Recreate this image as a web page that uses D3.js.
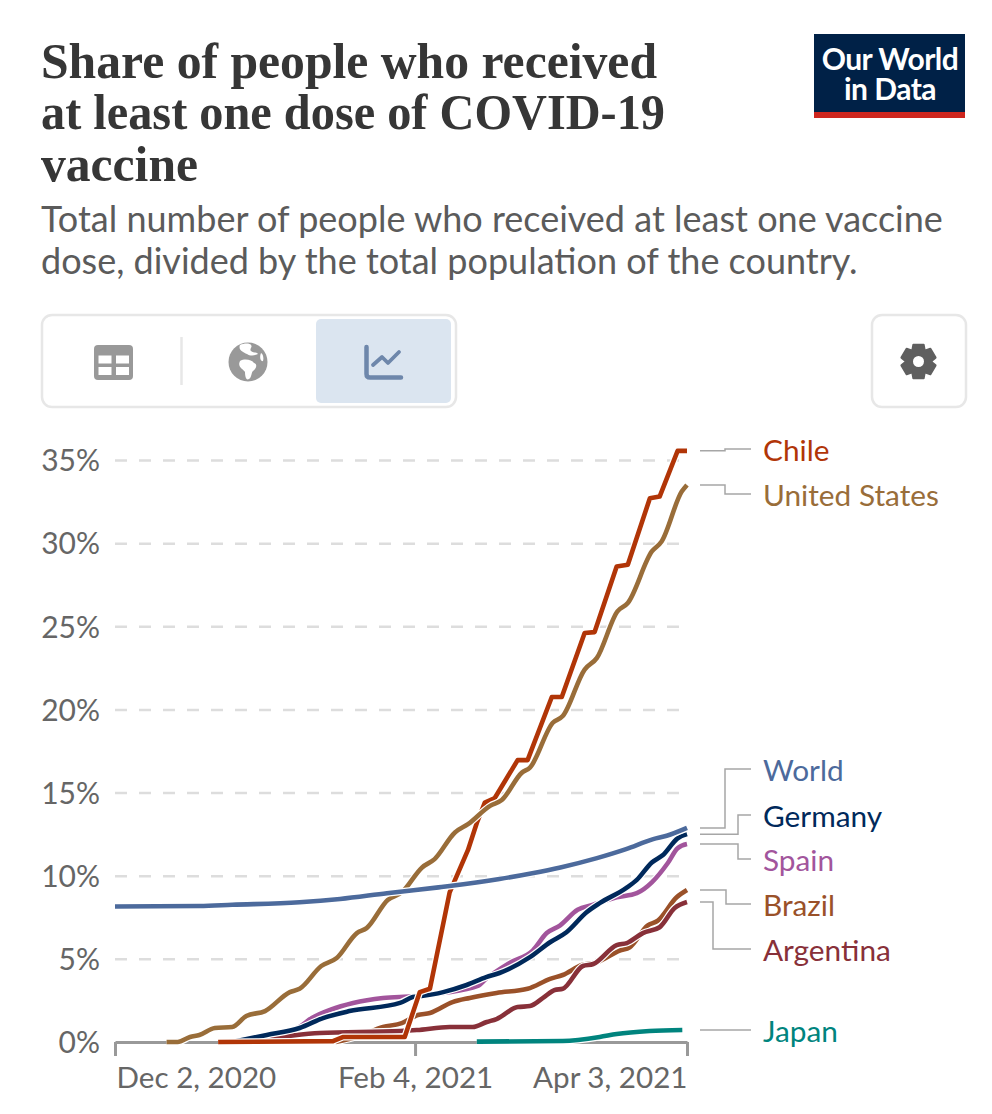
<!DOCTYPE html>
<html>
<head>
<meta charset="utf-8">
<script src="https://cdn.jsdelivr.net/npm/d3@7"></script>
<style>
  html, body { margin: 0; padding: 0; background: #fff; }
  svg { display: block; }
  text { font-family: Lato, "Open Sans", sans-serif; }
</style>
</head>
<body>
<svg id="chart" width="992" height="1114"></svg>
<script>
// values are percent of population; days count from Dec 2, 2020
const usDays = [11,13.4,16,18,21.3,25,28,32,37.3,39.4,44,47.3,51.6,53.7,58.2,61.2,65.5,68.2,72.5,75.3,80,82.5,86.8,88.5,93.4,95.5,100.2,102.8,107.2,109.4,114.5,116.6,120.9,122];
const usValues = [0,0,0.3,0.42,0.84,0.9,1.56,1.86,3,3.2,4.57,5.05,6.55,6.85,8.54,9,10.5,11,12.6,13.1,14.2,14.55,16.2,16.5,19.2,19.6,22.4,23.1,25.9,26.4,29.5,30.1,33.1,33.5];

const chileDays = [22,46.5,48.6,61.8,65,67.2,71.4,75.3,77.2,78.9,81,85.9,88,93.2,95.3,100.2,102.3,107,109.4,114.1,116.2,120,122];
const chileValues = [0,0.05,0.3,0.3,3,3.2,9,11.55,13.17,14.4,14.67,16.95,16.95,20.75,20.75,24.6,24.65,28.6,28.7,32.7,32.8,35.55,35.55];

const worldDays = [0,18,25,39.4,48,58,69,71.4,82,89,95,102.8,109,114.8,117.7,122];
const worldValues = [8.15,8.18,8.25,8.4,8.6,8.95,9.3,9.38,9.8,10.15,10.5,11.06,11.6,12.2,12.4,12.87];

const germanyDays = [25,32.4,39.4,44.4,50,60.8,63.5,65,70,75,79.2,82,88.5,92.8,96.3,100.6,103.4,109,111.3,114.5,116.9,120,122];
const germanyValues = [0,0.42,0.84,1.44,1.86,2.35,2.7,2.75,3,3.43,3.9,4.15,5.1,6,6.6,7.8,8.35,9.25,9.75,10.8,11.25,12.25,12.5];

const spainDays = [25,32,39,42,46,50.8,57.2,63.5,70,77.4,79.2,84.2,89.1,92.1,94.9,98.7,101.9,107,111.3,114.5,117.9,120,122];
const spainValues = [0,0.35,0.85,1.45,1.95,2.35,2.65,2.75,2.95,3.37,3.8,4.75,5.5,6.55,7,7.95,8.25,8.7,8.95,9.6,10.75,11.65,11.9];

const brazilDays = [47,52,57.2,61.2,64.6,67.2,72,75.7,81.4,88,92.8,95.5,99.6,102.8,107.7,109.8,113.6,115.8,119.8,122];
const brazilValues = [0,0.35,0.9,1.14,1.62,1.74,2.4,2.65,2.95,3.2,3.8,4.03,4.63,4.8,5.5,5.7,7,7.3,8.7,9.14];

const argentinaDays = [24,35,43.7,60.8,64.4,71.4,76.3,79.3,81.4,85.9,88.5,91.3,93.8,95.5,99.8,102,107,109.2,112.6,116.2,119.4,122];
const argentinaValues = [0,0.3,0.54,0.66,0.72,0.9,0.9,1.2,1.38,2.1,2.16,2.65,3.13,3.2,4.57,4.69,5.83,5.95,6.55,6.9,8.06,8.42];

const japanDays = [77.2,95.5,103.4,107,114,121];
const japanValues = [0.02,0.06,0.3,0.48,0.66,0.72];

// bottom-most first
const names = ["Spain","Brazil","Argentina","Germany","Japan","Chile","United States","World"];
const colors = ["#A2559C","#9A5129","#883039","#00295B","#00847E","#B13507","#996D39","#4C6A9C"];
const allDays = [spainDays,brazilDays,argentinaDays,germanyDays,japanDays,chileDays,usDays,worldDays];
const allValues = [spainValues,brazilValues,argentinaValues,germanyValues,japanValues,chileValues,usValues,worldValues];

const yTicks = [0,5,10,15,20,25,30,35];
const xTickDates = [new Date(2020,11,2), new Date(2021,1,4), new Date(2021,3,3)];
const xTickLabels = ["Dec 2, 2020","Feb 4, 2021","Apr 3, 2021"];

// label placement next to the line ends
const labelY = {"Chile":449,"United States":494,"World":769,"Germany":815,"Spain":859,"Brazil":904,"Argentina":949,"Japan":1030};
const bendX = {"Chile":725,"United States":725,"World":725,"Germany":738,"Spain":738,"Brazil":726,"Argentina":713,"Japan":725};

const svg = d3.select("#chart");
const start = xTickDates[0];

const xScale = d3.scaleTime().domain([xTickDates[0], xTickDates[2]]).range([115, 687]);
const yScale = d3.scaleLinear().domain([0, 35]).range([1042, 460]);

// Title
const titleLines = ["Share of people who received","at least one dose of COVID-19","vaccine"];
const titleWidths = [616,624,157];
const titleBase = [78,129,181];
titleLines.forEach((t, i) => {
  svg.append("text")
    .attr("x", 41).attr("y", titleBase[i])
    .attr("textLength", titleWidths[i])
    .attr("lengthAdjust", "spacingAndGlyphs")
    .style("font-family", "'Liberation Serif', serif")
    .style("font-weight", "bold")
    .style("font-size", "51px")
    .style("fill", "#363636")
    .text(t);
});

// Subtitle
const subLines = ["Total number of people who received at least one vaccine","dose, divided by the total population of the country."];
subLines.forEach((t, i) => {
  svg.append("text")
    .attr("x", 41).attr("y", 232 + i * 42)
    .style("font-size", "36px")
    .style("fill", "#5b5b5b")
    .text(t);
});

// Logo
svg.append("rect").attr("x", 814).attr("y", 34).attr("width", 151).attr("height", 84).attr("fill", "#002147");
svg.append("rect").attr("x", 814).attr("y", 112).attr("width", 151).attr("height", 6).attr("fill", "#CE261E");
const logoText = svg.append("text")
  .attr("text-anchor", "middle")
  .style("font-size", "30px")
  .style("font-weight", "bold")
  .style("letter-spacing", "-0.5px")
  .style("fill", "#fff");
["Our World","in Data"].forEach((t, i) => {
  logoText.append("tspan").attr("x", 890).attr("y", 70 + i * 30).text(t);
});

// Controls
svg.append("rect").attr("x", 42).attr("y", 315).attr("width", 414).attr("height", 92).attr("rx", 10)
  .attr("fill", "#fff").attr("stroke", "#e7e7e7").attr("stroke-width", 2.5);
svg.append("rect").attr("x", 316).attr("y", 319).attr("width", 135).attr("height", 84).attr("rx", 5).attr("fill", "#DBE5F0");
svg.append("line").attr("x1", 181.5).attr("x2", 181.5).attr("y1", 337).attr("y2", 385).attr("stroke", "#e7e7e7").attr("stroke-width", 2.5);
svg.append("rect").attr("x", 872).attr("y", 315).attr("width", 94).attr("height", 92).attr("rx", 10)
  .attr("fill", "#fff").attr("stroke", "#e7e7e7").attr("stroke-width", 2.5);

// table icon
svg.append("rect").attr("x", 94).attr("y", 345).attr("width", 39).attr("height", 35).attr("rx", 4).attr("fill", "#999");
[[98.5,355.5],[116,355.5],[98.5,367],[116,367]].forEach(c => {
  svg.append("rect").attr("x", c[0]).attr("y", c[1]).attr("width", 13).attr("height", 8).attr("fill", "#fff");
});

// globe icon
svg.append("circle").attr("cx", 248).attr("cy", 362).attr("r", 19.5).attr("fill", "#999");
svg.append("path").attr("fill", "#fff")
  .attr("d", "M240,345 C244,343 250,343 251,345 C253,347 249,349 251,351 C253,353 257,352 258,354 C254,356 250,356 247,354 C243,352 238,350 240,345 Z" +
             "M240,361 C245,358 252,360 254,363 C258,364 256,369 253,371 C251,373 252,377 249,379 C246,381 245,376 245,372 C243,369 237,367 240,361 Z" +
             "M261,353 C263,354 264,358 263,361 C261,362 259,358 261,353 Z");

// chart icon
const iconColor = "#6E87AB";
svg.append("path").attr("fill", "none").attr("stroke", iconColor).attr("stroke-width", 4.5)
  .attr("stroke-linecap", "round").attr("stroke-linejoin", "round")
  .attr("d", "M366.5,347 L366.5,374 Q366.5,377.5 370,377.5 L401,377.5");
svg.append("path").attr("fill", "none").attr("stroke", iconColor).attr("stroke-width", 3.8)
  .attr("stroke-linecap", "round").attr("stroke-linejoin", "round")
  .attr("d", "M373,365 L382,357 L388,363 L399,352");

// gear icon
const gearPts = d3.range(6).map(i => i * Math.PI / 3 - Math.PI / 2);
const gear = d3.path();
gearPts.forEach((a, i) => {
  const da = 0.3;
  [[a - da, 17.5],[a + da, 17.5],[a + Math.PI / 6, 12.5]].forEach((p, j) => {
    const px = 918.5 + p[1] * Math.cos(p[0]), py = 361.5 + p[1] * Math.sin(p[0]);
    if (i === 0 && j === 0) gear.moveTo(px, py); else gear.lineTo(px, py);
  });
});
gear.closePath();
svg.append("path").attr("d", gear.toString()).attr("fill", "#5f5f5f").attr("stroke", "#5f5f5f").attr("stroke-width", 2).attr("stroke-linejoin", "round");
svg.append("circle").attr("cx", 918.5).attr("cy", 361.5).attr("r", 5.5).attr("fill", "#fff");

// Y grid + labels
const yAxis = svg.append("g")
  .attr("transform", "translate(115,0)")
  .call(d3.axisLeft(yScale).tickValues(yTicks).tickFormat(d => d + "%").tickSize(-572).tickPadding(15));
yAxis.select(".domain").remove();
yAxis.selectAll("line")
  .attr("stroke", "#dddddd").attr("stroke-width", 2.5).attr("stroke-dasharray", "12,12");
yAxis.selectAll("text")
  .style("font-size", "30px").style("fill", "#666").attr("dy", "0.36em");
yAxis.selectAll(".tick").filter(d => d === 0).select("line").remove();

// X axis
const xAxis = svg.append("g")
  .attr("transform", "translate(0,1042)")
  .call(d3.axisBottom(xScale).tickValues(xTickDates)
    .tickFormat((d, i) => xTickLabels[i]).tickSize(14).tickSizeOuter(0).tickPadding(11));
xAxis.select(".domain").attr("stroke", "#999").attr("stroke-width", 3);
xAxis.selectAll("line").attr("stroke", "#999").attr("stroke-width", 3);
xAxis.selectAll("text")
  .style("font-size", "29.6px").style("fill", "#666")
  .attr("text-anchor", (d, i) => ["start","middle","end"][i])
  .attr("dx", (d, i) => [1, 0, 0][i]);

// Lines
const line = d3.line()
  .x(p => xScale(d3.timeHour.offset(start, p[0] * 24)))
  .y(p => yScale(p[1]));

names.forEach((name, i) => {
  const pts = d3.zip(allDays[i], allValues[i]);
  // chile's steps have hard corners in the reference
  line.curve(name === "Chile" ? d3.curveLinear : d3.curveMonotoneX);
  svg.append("path").datum(pts).attr("d", line)
    .attr("fill", "none").attr("stroke", "#fff").attr("stroke-width", 7).attr("stroke-linejoin", "round");
  svg.append("path").datum(pts).attr("d", line)
    .attr("fill", "none").attr("stroke", colors[i]).attr("stroke-width", 4.6).attr("stroke-linejoin", "round");
});

// Connectors + labels
names.forEach((name, i) => {
  const vals = allValues[i];
  const y0 = yScale(vals[vals.length - 1]);
  const y1 = labelY[name];
  const bx = bendX[name];
  svg.append("path")
    .attr("d", `M700,${y0} H${bx} V${y1} H751`)
    .attr("fill", "none").attr("stroke", "#a6a6a6").attr("stroke-width", 1.5);
  svg.append("text")
    .attr("x", 763).attr("y", y1 + 1)
    .attr("dy", "0.36em")
    .style("font-size", "29.8px")
    .style("fill", colors[i])
    .text(name);
});
</script>
</body>
</html>
